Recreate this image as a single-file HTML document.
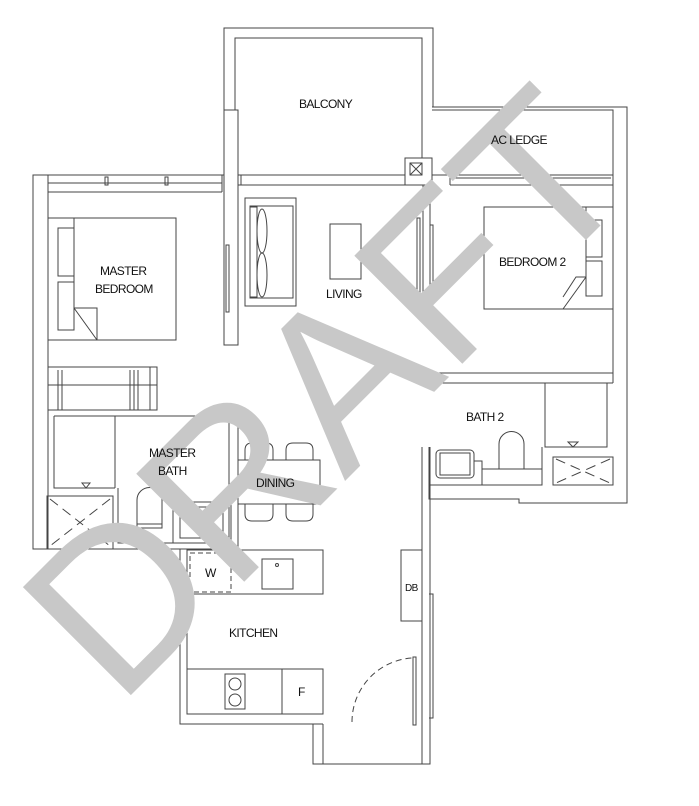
<!DOCTYPE html>
<html><head><meta charset="utf-8"><style>
html,body{margin:0;padding:0;background:#fff;}
svg{display:block}
text.l{font-family:"Liberation Sans",sans-serif;font-size:12px;fill:#111;letter-spacing:-0.6px}
</style></head><body>
<svg width="699" height="806" viewBox="0 0 699 806" xmlns="http://www.w3.org/2000/svg">
<g fill="none" stroke="#444" stroke-width="1">
<path d="M224 110 V28 H433 V107"/>
<path d="M235 110 V38 H422 V158"/>
<rect x="224" y="110" width="14" height="235"/>
<path d="M224 175 H33 V549 H229"/>
<path d="M222 192 H48 V549"/>
<line x1="48" y1="175" x2="48" y2="192"/>
<line x1="222" y1="175" x2="222" y2="192"/>
<line x1="48" y1="183" x2="222" y2="183"/>
<rect x="105" y="177" width="3" height="8"/>
<rect x="165" y="177" width="3" height="8"/>
<path d="M238 175 H405 M238 185 H405 M241 175 V185"/>
<rect x="405" y="158" width="27" height="27"/>
<rect x="410" y="163" width="12" height="12"/><path d="M410 163 L422 175 M422 163 L410 175"/>
<rect x="423" y="185" width="7" height="126"/>
<rect x="417" y="218" width="3" height="77"/><rect x="430" y="225" width="3" height="70"/>
<rect x="226" y="245" width="3" height="67"/>
<path d="M432 107 H627 V503 H519 V499 H429 V447"/>
<path d="M432 110 H613 V383"/>
<path d="M432 175 H613 M450 178 H611 M450 185 H613 M450 175 V185"/>
<path d="M422 373 H613 M429 383 H613 M422 373 V380 H429"/>
<rect x="48" y="218" width="128" height="122"/>
<path d="M74 218 V308 L97 340 M74 308 H97 V340"/>
<rect x="58" y="228" width="16" height="48"/><rect x="58" y="282" width="16" height="48"/>
<rect x="245" y="198" width="51" height="108"/>
<rect x="250" y="206" width="43" height="92"/>
<rect x="250" y="207" width="7" height="90"/>
<ellipse cx="262" cy="231" rx="5" ry="22"/><ellipse cx="262" cy="275" rx="5" ry="22"/>
<rect x="330" y="224" width="31" height="55"/>
<rect x="484" y="207" width="129" height="102"/>
<path d="M586 207 V277 L563 309 M586 277 H576 L563 297"/>
<rect x="586" y="220" width="16" height="37"/><rect x="586" y="261" width="16" height="35"/>
<rect x="48" y="367" width="109" height="43"/>
<path d="M48 385 H157 M58 370 V410 M62 370 V410 M130 370 V410 M134 370 V410 M138 370 V410 M150 367 V410"/>
<path d="M54 416 H232 M54 416 V488 H115 M115 416 V488"/>
<path d="M229 406 V550 M238 406 V550 M229 406 H238"/>
<path d="M82 483 L90 483 L86 488 Z"/>
<rect x="47" y="496" width="66" height="53"/>
<path d="M50 499 L110 546 M110 499 L50 546" stroke-dasharray="10 6"/>
<path d="M118 488 V543 H231"/>
<path d="M137 528 V500 A12.5 12.5 0 0 1 162 500 V528 Z M137 524 H162"/>
<rect x="173" y="502" width="58" height="41"/>
<rect x="180" y="507" width="43" height="31"/><circle cx="202" cy="531" r="1.5"/>
<rect x="238" y="460" width="82" height="44"/>
<path d="M245 460 V450 Q245 443 252 443 H266 Q273 443 273 450 V460"/>
<path d="M286 460 V450 Q286 443 293 443 H306 Q313 443 313 450 V460"/>
<path d="M245 504 V514 Q245 521 252 521 H266 Q273 521 273 514 V504"/>
<path d="M286 504 V514 Q286 521 293 521 H306 Q313 521 313 514 V504"/>
<path d="M180 549 V724 H313 V764 H430 V447"/>
<path d="M187 550 V714 M323 724 V764 M323 724 H313"/>
<path d="M422 447 V764"/>
<rect x="187" y="550" width="136" height="44"/>
<rect x="190" y="553" width="41" height="39" stroke-dasharray="5 3"/>
<rect x="262" y="559" width="31" height="30"/><circle cx="277" cy="565" r="1.5"/>
<rect x="187" y="669" width="136" height="45"/>
<line x1="282" y1="669" x2="282" y2="714"/>
<rect x="225" y="674" width="20" height="35"/><circle cx="235" cy="684" r="6"/><circle cx="235" cy="700" r="6"/>
<rect x="401" y="550" width="21" height="71"/>
<path d="M429 594 H433 V718 H429"/>
<rect x="413" y="657" width="3" height="68"/>
<path d="M352 722 A64 64 0 0 1 412 658" stroke-dasharray="6 4"/>
<path d="M545 383 V447 H607 V383 M542 447 V485 H429"/>
<path d="M568 442 L578 442 L573 447 Z"/>
<rect x="553" y="457" width="60" height="28"/>
<path d="M556 459 L610 483 M610 459 L556 483" stroke-dasharray="10 6"/>
<rect x="436" y="450" width="38" height="28" rx="4"/><rect x="440" y="453" width="30" height="22"/>
<path d="M474 461 H482 V485 M482 469 H542"/>
<path d="M499 469 V444 A12.5 12.5 0 0 1 524 444 V469"/>
</g>
<text x="0" y="0" transform="translate(118,708) rotate(-45)" style="font-family:'Liberation Sans',sans-serif;font-size:222px" fill="#c8c8c8">DRAFT</text>
<g>
<text class="l" x="299" y="108">BALCONY</text>
<text class="l" x="491" y="144">AC LEDGE</text>
<text class="l" x="100" y="275">MASTER</text>
<text class="l" x="95" y="293">BEDROOM</text>
<text class="l" x="326" y="298">LIVING</text>
<text class="l" x="499" y="266">BEDROOM 2</text>
<text class="l" x="149" y="457">MASTER</text>
<text class="l" x="158" y="475">BATH</text>
<text class="l" x="256" y="487">DINING</text>
<text class="l" x="466" y="421">BATH 2</text>
<text class="l" x="205" y="577">W</text>
<text class="l" x="229" y="637">KITCHEN</text>
<text class="l" x="298" y="696">F</text>
<text class="l" x="405" y="591" style="font-size:10px">DB</text>
</g>
</svg>
</body></html>
